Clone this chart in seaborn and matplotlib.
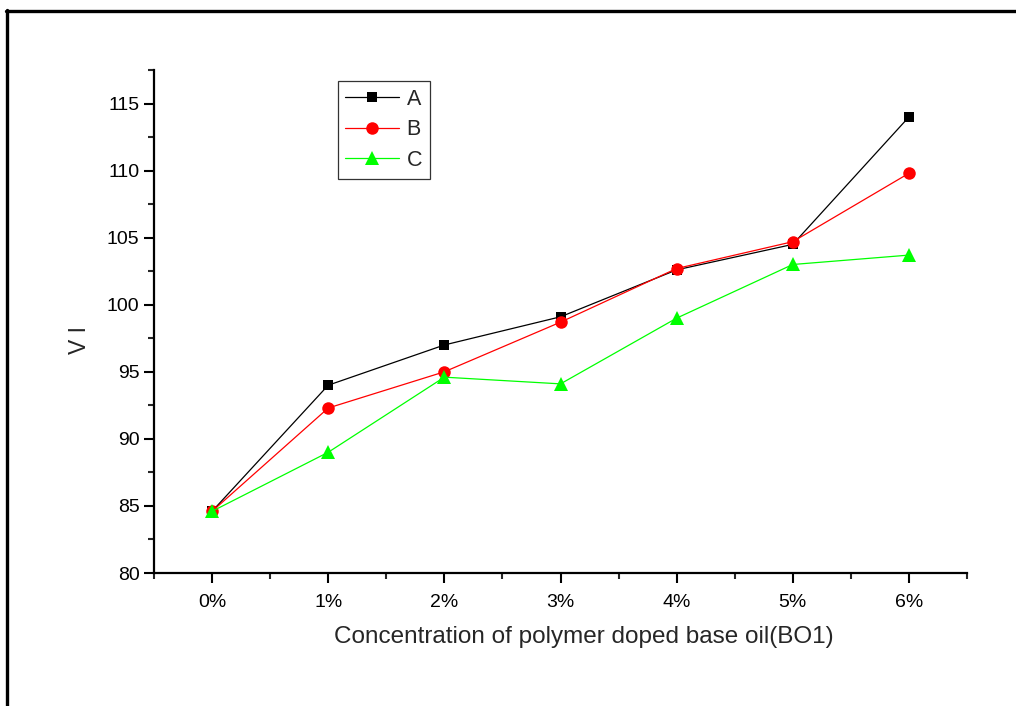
import matplotlib
matplotlib.use("Agg")
import matplotlib.pyplot as plt
from matplotlib.lines import Line2D
from matplotlib.ticker import MultipleLocator, FixedLocator
import seaborn as sns
import pandas as pd

# concentrations of polymer (%), VI values for each series
concentration = [0, 1, 2, 3, 4, 5, 6]
vi_a = [84.6, 94.0, 97.0, 99.1, 102.6, 104.5, 114.0]
vi_b = [84.6, 92.3, 95.0, 98.7, 102.7, 104.7, 109.8]
vi_c = [84.6, 89.0, 94.6, 94.1, 99.0, 103.0, 103.7]
series_names = ["A", "B", "C"]
tick_labels = ["0%", "1%", "2%", "3%", "4%", "5%", "6%"]

df = pd.DataFrame({
    "conc": concentration * 3,
    "VI": vi_a + vi_b + vi_c,
    "series": [s for s in series_names for _ in concentration],
})

sns.set_style("white")
plt.rcParams["font.family"] = ["Liberation Sans", "DejaVu Sans"]

fig = plt.figure(figsize=(10.16, 7.06), dpi=100)
ax = fig.add_axes([154 / 1016, 1 - 573 / 706, (967 - 154) / 1016, (573 - 70) / 706])

palette = {"A": "black", "B": "#ff0000", "C": "#00ff00"}
markers = {"A": "s", "B": "o", "C": "^"}
sizes = {"A": 7.5, "B": 9, "C": 9.5}

sns.lineplot(data=df, x="conc", y="VI", hue="series", style="series",
             palette=palette, markers=markers, dashes=False, ax=ax,
             linewidth=0.9, markersize=8.5, markeredgewidth=0, legend=False)

for line, s in zip(ax.get_lines(), series_names):
    line.set_markersize(sizes[s])

ax.set_xlim(-0.5, 6.5)
ax.set_xticks(concentration)
ax.set_xticklabels(tick_labels)
ax.xaxis.set_minor_locator(FixedLocator([c - 0.5 for c in concentration] + [6.5]))
ax.yaxis.set_major_locator(MultipleLocator(5))
ax.yaxis.set_minor_locator(MultipleLocator(2.5))
ax.set_ylim(80, 117.5)

for sp in ["top", "right"]:
    ax.spines[sp].set_visible(False)
for sp in ["left", "bottom"]:
    ax.spines[sp].set_linewidth(1.6)
    ax.spines[sp].set_color("black")

ax.tick_params(which="major", direction="out", length=7, width=1.5, labelsize=14,
               colors="black", left=True, bottom=True)
ax.tick_params(which="minor", direction="out", length=4, width=1.5,
               left=True, bottom=True)
ax.tick_params(axis="x", pad=8)

ax.set_xlabel("Concentration of polymer doped base oil(BO1)", fontsize=17.5)
ax.set_ylabel("V I", fontsize=16.5)
ax.xaxis.set_label_coords(0.529, -0.105)
ax.yaxis.set_label_coords(-0.078, 0.463)

handles = [Line2D([], [], color=palette[s], marker=markers[s], markersize=sizes[s],
                  markeredgewidth=0, linewidth=0.9) for s in series_names]
leg = ax.legend(handles, series_names, loc="upper left", bbox_to_anchor=(0.226, 0.978),
                borderaxespad=0, fontsize=15.5, frameon=True, fancybox=False,
                handlelength=2.5, handletextpad=0.35, borderpad=0.35, labelspacing=0.45)
leg.get_frame().set_edgecolor("black")
leg.get_frame().set_linewidth(0.9)

# outer frame (cropped at right and bottom)
fig.add_artist(Line2D([7 / 1016, 7 / 1016], [0, 1 - 9.5 / 706], color="black",
                      linewidth=2.4, transform=fig.transFigure))
fig.add_artist(Line2D([6 / 1016, 1], [1 - 10.5 / 706, 1 - 10.5 / 706], color="black",
                      linewidth=2.4, transform=fig.transFigure))

fig.savefig("out.png", dpi=100)
